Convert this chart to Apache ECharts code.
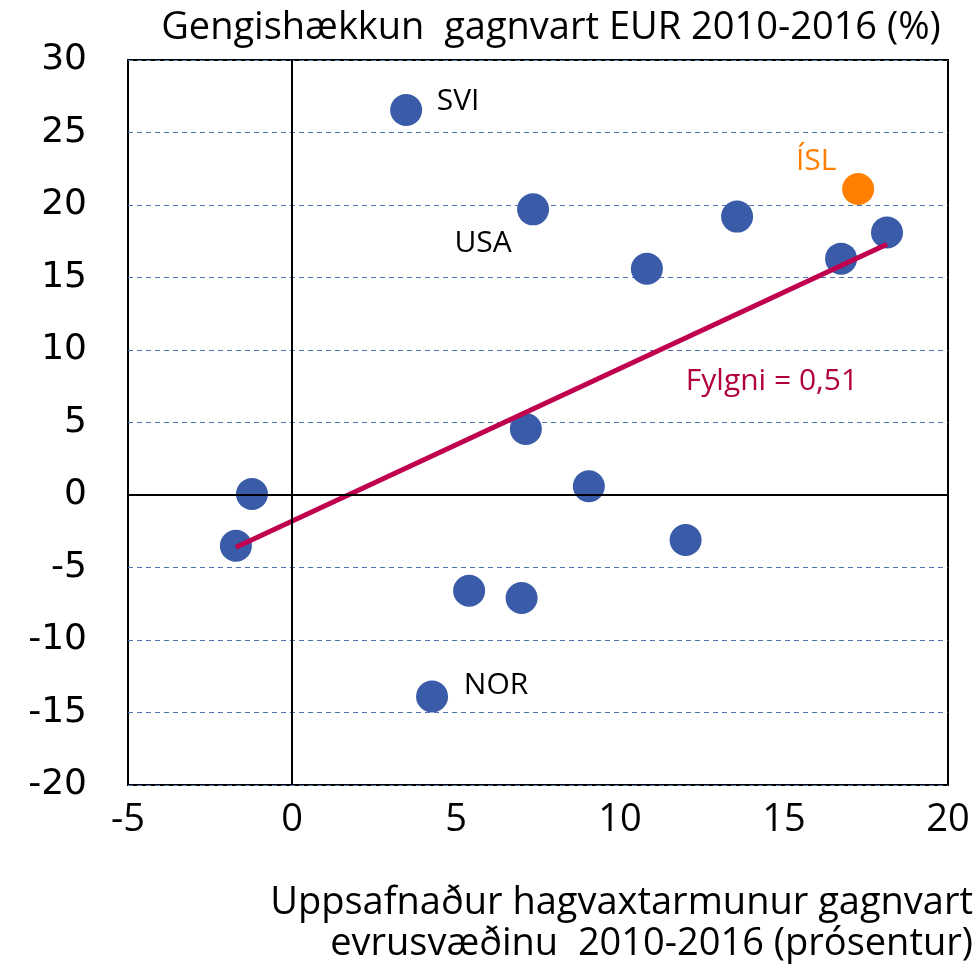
<!DOCTYPE html>
<html><head><meta charset="utf-8">
<script src="https://cdn.jsdelivr.net/npm/echarts@6/dist/echarts.min.js"></script>
<style>html,body{margin:0;padding:0;background:#fff}#c{width:977px;height:972px}</style>
</head><body><div id="c"></div>
<script>
const xVals = [3.48, 7.35, 10.82, 13.57, 18.14, 16.74, 7.13, 9.05, -1.22, -1.71, 12.0, 5.4, 7.0, 4.27];
const yVals = [26.55, 19.7, 15.6, 19.2, 18.1, 16.3, 4.55, 0.6, 0.07, -3.5, -3.1, -6.6, -7.1, -13.9];
const ptLabels = ['SVI', 'USA', '', '', '', '', '', '', '', '', '', '', '', 'NOR'];
const islX = [17.26];
const islY = [21.1];
const islLabel = ['ÍSL'];
const trendX = [-1.71, 18.14];
const trendY = [-3.6, 17.3];
const trendLabel = 'Fylgni = 0,51';
const titleText = 'Gengishækkun  gagnvart EUR 2010-2016 (%)';
const xTitle = 'Uppsafnaður hagvaxtarmunur gagnvart\nevrusvæðinu  2010-2016 (prósentur)';

const labelOffsets = {SVI: [52, -9], USA: [-50, 34], NOR: [64, -11]};
const font = 'Open Sans';

const mainData = xVals.map((x, i) => {
  const lab = ptLabels[i];
  const d = {value: [x, yVals[i]]};
  if (lab) {
    d.label = {show: true, formatter: lab, position: 'inside', offset: labelOffsets[lab],
      color: '#000', fontSize: 30, fontFamily: font};
  }
  return d;
});

const chart = echarts.init(document.getElementById('c'), null, {renderer: 'canvas'});
chart.setOption({
  animation: false,
  title: [
    {text: titleText, left: 546, top: 4, textAlign: 'center',
     textStyle: {fontFamily: font, fontWeight: 'normal', fontSize: 38, color: '#000'}},
    {text: xTitle, left: 968, top: 878, textAlign: 'right',
     textStyle: {fontFamily: font, fontWeight: 'normal', fontSize: 38, color: '#000', lineHeight: 41}}
  ],
  grid: {left: 128, right: 29, top: 60, bottom: 187, show: true, borderColor: '#000', borderWidth: 2, backgroundColor: 'transparent'},
  xAxis: {type: 'value', min: -5, max: 20, interval: 5,
    axisLine: {show: false}, axisTick: {show: false}, splitLine: {show: false},
    axisLabel: {fontFamily: font, fontSize: 38, color: '#000', margin: 16}},
  yAxis: {type: 'value', min: -20, max: 30, interval: 5,
    axisLine: {show: false}, axisTick: {show: false},
    splitLine: {show: true, lineStyle: {color: '#4F72B0', type: [5, 4], width: 1}},
    axisLabel: {fontFamily: 'DejaVu Sans', fontSize: 36, color: '#000', margin: 41}},
  series: [
    {type: 'line', data: [], silent: true,
     markLine: {silent: true, symbol: 'none', label: {show: false},
       lineStyle: {color: '#000', type: 'solid', width: 2},
       data: [{xAxis: 0}, {yAxis: 0}]}},
    {type: 'line', data: trendX.map((x, i) => [x, trendY[i]]), symbol: 'none', z: 3,
     lineStyle: {color: '#C0004F', width: 5}},
    {type: 'scatter', data: mainData, symbolSize: 32, z: 2,
     itemStyle: {color: '#3A5BA8', opacity: 1}},
    {type: 'scatter', data: islX.map((x, i) => ({value: [x, islY[i]],
       label: {show: true, formatter: islLabel[i], position: 'inside', offset: [-42, -28],
         color: '#FF8000', fontSize: 30, fontFamily: font}})),
     symbolSize: 32, z: 2, itemStyle: {color: '#FF8000', opacity: 1}},
    {type: 'scatter', data: [{value: [trendX[1], trendY[1]],
       label: {show: true, formatter: trendLabel, position: 'inside', offset: [-115, 137],
         color: '#B0003F', opacity: 1, fontSize: 30, fontFamily: font, textBorderWidth: 0}}],
     symbolSize: 1, z: 4, itemStyle: {color: 'rgba(0,0,0,0)'}}
  ]
});
</script></body></html>
